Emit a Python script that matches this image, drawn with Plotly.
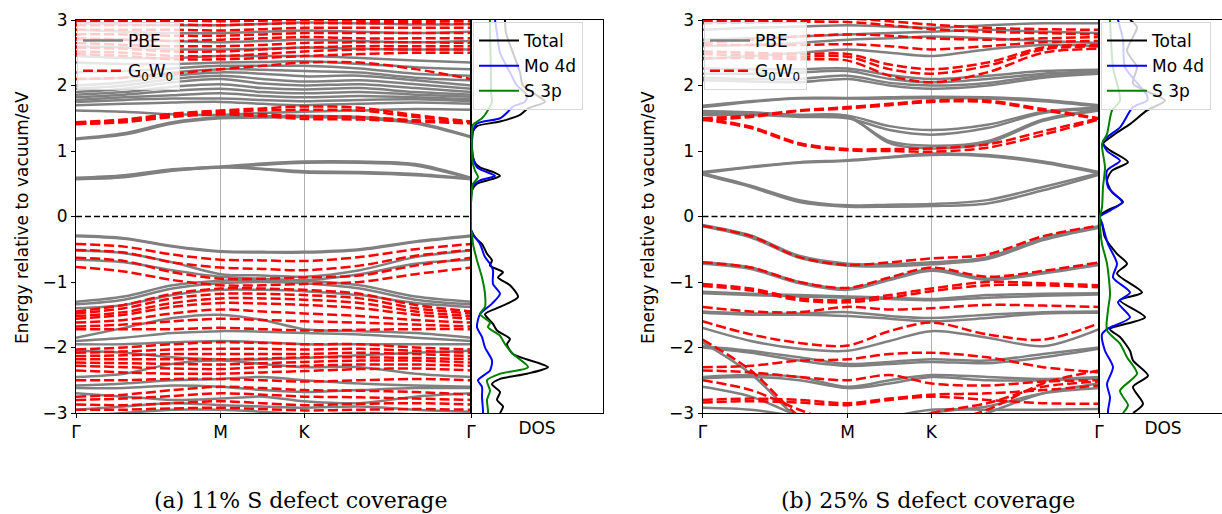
import plotly.graph_objects as go

# ---------------- data ----------------
kpath = [0.0, 0.333, 0.667, 1.0, 1.289, 1.577, 1.962, 2.347, 2.732]
k_ticks = [0.0, 1.0, 1.577, 2.732]
k_labels = ["Γ", "M", "K", "Γ"]
e_ticks = [-3, -2, -1, 0, 1, 2, 3]
e_labels = ["−3", "−2", "−1", "0", "1", "2", "3"]
fermi_level = 0.0

# panel (a): 11% S defect coverage
pbe_a = [
    [0.57, 0.60, 0.70, 0.75, 0.72, 0.67, 0.66, 0.63, 0.57],
    [0.58, 0.61, 0.71, 0.76, 0.73, 0.69, 0.68, 0.65, 0.58],
    [0.58, 0.62, 0.71, 0.75, 0.79, 0.82, 0.82, 0.78, 0.58],
    [0.59, 0.63, 0.72, 0.76, 0.81, 0.84, 0.84, 0.80, 0.59],
    [1.18, 1.25, 1.42, 1.50, 1.51, 1.52, 1.50, 1.42, 1.21],
    [1.19, 1.27, 1.44, 1.52, 1.53, 1.54, 1.52, 1.44, 1.22],
    [1.62, 1.60, 1.56, 1.55, 1.58, 1.60, 1.62, 1.64, 1.63],
    [1.70, 1.72, 1.74, 1.75, 1.72, 1.70, 1.72, 1.74, 1.72],
    [1.75, 1.78, 1.80, 1.80, 1.78, 1.76, 1.78, 1.79, 1.76],
    [1.78, 1.82, 1.85, 1.88, 1.84, 1.82, 1.84, 1.82, 1.79],
    [1.82, 1.86, 1.92, 1.95, 1.90, 1.88, 1.90, 1.86, 1.83],
    [1.86, 1.90, 1.98, 2.02, 1.96, 1.94, 1.96, 1.90, 1.86],
    [1.90, 1.95, 2.05, 2.10, 2.03, 2.00, 2.02, 1.96, 1.90],
    [1.95, 2.00, 2.10, 2.15, 2.10, 2.06, 2.08, 2.02, 1.95],
    [2.00, 2.05, 2.15, 2.20, 2.18, 2.14, 2.15, 2.08, 2.00],
    [2.10, 2.12, 2.20, 2.25, 2.24, 2.22, 2.20, 2.12, 2.08],
    [2.20, 2.22, 2.26, 2.30, 2.30, 2.30, 2.26, 2.18, 2.15],
    [2.35, 2.33, 2.33, 2.35, 2.36, 2.37, 2.33, 2.28, 2.25],
    [2.45, 2.42, 2.42, 2.45, 2.45, 2.45, 2.42, 2.38, 2.35],
    [2.60, 2.58, 2.55, 2.55, 2.56, 2.58, 2.56, 2.55, 2.55],
    [2.70, 2.70, 2.68, 2.66, 2.68, 2.70, 2.68, 2.66, 2.68],
    [2.85, 2.82, 2.80, 2.80, 2.82, 2.84, 2.82, 2.80, 2.82],
    [2.95, 2.93, 2.92, 2.92, 2.94, 2.96, 2.95, 2.93, 2.94],
    [-0.29, -0.33, -0.45, -0.53, -0.54, -0.54, -0.50, -0.38, -0.29],
    [-0.30, -0.34, -0.46, -0.54, -0.55, -0.55, -0.51, -0.39, -0.30],
    [-0.52, -0.56, -0.70, -0.88, -0.90, -0.92, -0.82, -0.62, -0.52],
    [-0.66, -0.70, -0.82, -0.92, -0.95, -0.97, -0.88, -0.72, -0.66],
    [-1.30, -1.22, -1.05, -0.98, -0.97, -0.98, -1.05, -1.22, -1.30],
    [-1.34, -1.27, -1.10, -1.02, -1.00, -1.02, -1.10, -1.27, -1.34],
    [-1.40, -1.35, -1.20, -1.12, -1.12, -1.14, -1.20, -1.32, -1.38],
    [-1.85, -1.70, -1.55, -1.50, -1.58, -1.72, -1.75, -1.78, -1.85],
    [-1.90, -1.85, -1.78, -1.75, -1.76, -1.78, -1.80, -1.85, -1.90],
    [-1.95, -1.95, -1.92, -1.90, -1.92, -1.95, -1.95, -1.95, -1.95],
    [-2.05, -2.08, -2.15, -2.18, -2.18, -2.16, -2.12, -2.08, -2.05],
    [-2.45, -2.40, -2.25, -2.20, -2.25, -2.30, -2.30, -2.40, -2.45],
    [-2.58, -2.55, -2.50, -2.48, -2.45, -2.50, -2.55, -2.58, -2.60],
    [-2.62, -2.62, -2.58, -2.60, -2.65, -2.68, -2.65, -2.62, -2.62],
    [-2.70, -2.75, -2.80, -2.78, -2.75, -2.82, -2.85, -2.75, -2.70],
    [-2.95, -2.90, -2.85, -2.88, -2.90, -2.92, -2.90, -2.95, -2.98],
    [-3.05, -3.00, -2.95, -2.95, -2.98, -3.02, -3.00, -3.02, -3.05],
]
gw_a = [
    [1.41, 1.44, 1.52, 1.56, 1.53, 1.49, 1.48, 1.45, 1.42],
    [1.42, 1.45, 1.53, 1.58, 1.56, 1.53, 1.52, 1.47, 1.43],
    [1.43, 1.47, 1.56, 1.60, 1.62, 1.63, 1.62, 1.52, 1.44],
    [1.44, 1.48, 1.57, 1.62, 1.65, 1.68, 1.66, 1.55, 1.45],
    [2.10, 2.12, 2.18, 2.25, 2.30, 2.35, 2.35, 2.25, 2.10],
    [2.48, 2.45, 2.40, 2.40, 2.42, 2.45, 2.48, 2.50, 2.50],
    [2.52, 2.50, 2.45, 2.45, 2.48, 2.52, 2.55, 2.55, 2.55],
    [2.58, 2.56, 2.52, 2.52, 2.55, 2.58, 2.60, 2.60, 2.60],
    [2.65, 2.62, 2.60, 2.60, 2.62, 2.65, 2.66, 2.66, 2.65],
    [2.72, 2.70, 2.68, 2.70, 2.72, 2.74, 2.72, 2.72, 2.72],
    [2.78, 2.78, 2.76, 2.76, 2.78, 2.80, 2.80, 2.80, 2.80],
    [2.85, 2.85, 2.85, 2.84, 2.86, 2.88, 2.88, 2.88, 2.88],
    [2.92, 2.92, 2.93, 2.92, 2.94, 2.95, 2.95, 2.95, 2.94],
    [2.98, 2.98, 2.99, 2.98, 2.99, 3.00, 2.99, 2.98, 2.98],
    [-0.42, -0.46, -0.58, -0.66, -0.67, -0.68, -0.62, -0.50, -0.42],
    [-0.51, -0.55, -0.70, -0.78, -0.80, -0.82, -0.75, -0.60, -0.51],
    [-0.63, -0.68, -0.85, -0.95, -0.95, -0.93, -0.90, -0.75, -0.63],
    [-0.77, -0.84, -0.97, -1.05, -1.05, -1.03, -1.00, -0.88, -0.78],
    [-1.45, -1.35, -1.18, -1.10, -1.10, -1.12, -1.18, -1.35, -1.45],
    [-1.48, -1.40, -1.25, -1.18, -1.18, -1.20, -1.25, -1.40, -1.48],
    [-1.52, -1.46, -1.32, -1.25, -1.25, -1.27, -1.32, -1.45, -1.52],
    [-1.56, -1.50, -1.38, -1.32, -1.33, -1.35, -1.40, -1.50, -1.56],
    [-1.62, -1.58, -1.48, -1.42, -1.45, -1.48, -1.52, -1.58, -1.62],
    [-1.68, -1.65, -1.60, -1.56, -1.58, -1.60, -1.62, -1.65, -1.68],
    [-1.72, -1.72, -1.72, -1.70, -1.72, -1.74, -1.73, -1.72, -1.72],
    [-2.03, -2.00, -1.95, -1.92, -1.93, -1.95, -1.95, -2.00, -2.03],
    [-2.08, -2.06, -2.03, -2.02, -2.02, -2.03, -2.02, -2.05, -2.08],
    [-2.13, -2.12, -2.10, -2.10, -2.10, -2.10, -2.08, -2.10, -2.13],
    [-2.18, -2.18, -2.18, -2.18, -2.17, -2.15, -2.15, -2.16, -2.18],
    [-2.23, -2.24, -2.25, -2.26, -2.24, -2.22, -2.20, -2.20, -2.23],
    [-2.28, -2.30, -2.32, -2.33, -2.30, -2.28, -2.26, -2.26, -2.28],
    [-2.35, -2.38, -2.40, -2.40, -2.38, -2.36, -2.33, -2.32, -2.35],
    [-2.50, -2.50, -2.48, -2.48, -2.50, -2.52, -2.50, -2.48, -2.50],
    [-2.75, -2.72, -2.65, -2.60, -2.62, -2.65, -2.66, -2.68, -2.72],
    [-2.80, -2.78, -2.74, -2.70, -2.72, -2.75, -2.76, -2.78, -2.80],
    [-2.87, -2.88, -2.85, -2.82, -2.85, -2.88, -2.86, -2.85, -2.87],
    [-2.95, -2.95, -2.93, -2.92, -2.94, -2.96, -2.95, -2.94, -2.95],
]

# panel (b): 25% S defect coverage
pbe_b = [
    [0.64, 0.45, 0.22, 0.15, 0.15, 0.16, 0.20, 0.40, 0.64],
    [0.66, 0.47, 0.25, 0.17, 0.18, 0.19, 0.25, 0.45, 0.66],
    [0.66, 0.75, 0.82, 0.85, 0.90, 0.94, 0.92, 0.82, 0.66],
    [0.68, 0.76, 0.83, 0.86, 0.91, 0.96, 0.94, 0.84, 0.68],
    [1.55, 1.55, 1.52, 1.50, 1.32, 1.25, 1.35, 1.58, 1.64],
    [1.57, 1.57, 1.55, 1.54, 1.38, 1.32, 1.40, 1.60, 1.66],
    [1.60, 1.58, 1.54, 1.52, 1.15, 1.08, 1.15, 1.48, 1.63],
    [1.61, 1.59, 1.55, 1.53, 1.12, 1.04, 1.12, 1.46, 1.62],
    [1.67, 1.75, 1.80, 1.80, 1.80, 1.81, 1.80, 1.76, 1.68],
    [1.69, 1.76, 1.81, 1.81, 1.82, 1.83, 1.82, 1.78, 1.70],
    [2.08, 2.06, 2.05, 2.10, 2.00, 1.95, 2.00, 2.12, 2.18],
    [2.12, 2.10, 2.10, 2.15, 2.04, 2.00, 2.04, 2.15, 2.20],
    [2.18, 2.18, 2.20, 2.22, 2.10, 2.05, 2.10, 2.18, 2.22],
    [2.26, 2.25, 2.25, 2.26, 2.16, 2.10, 2.15, 2.22, 2.24],
    [2.40, 2.45, 2.50, 2.55, 2.50, 2.45, 2.55, 2.62, 2.60],
    [2.60, 2.62, 2.65, 2.70, 2.72, 2.75, 2.72, 2.68, 2.65],
    [2.70, 2.72, 2.75, 2.78, 2.80, 2.82, 2.85, 2.82, 2.80],
    [2.85, 2.88, 2.90, 2.92, 2.90, 2.88, 2.92, 2.95, 2.95],
    [-0.13, -0.29, -0.60, -0.72, -0.73, -0.70, -0.62, -0.33, -0.15],
    [-0.15, -0.32, -0.63, -0.75, -0.76, -0.73, -0.65, -0.36, -0.17],
    [-0.70, -0.78, -1.00, -1.10, -0.95, -0.80, -0.95, -0.85, -0.72],
    [-0.72, -0.80, -1.02, -1.12, -0.97, -0.83, -0.97, -0.87, -0.74],
    [-1.15, -1.18, -1.20, -1.22, -1.24, -1.26, -1.20, -1.18, -1.17],
    [-1.17, -1.20, -1.22, -1.24, -1.26, -1.28, -1.24, -1.21, -1.19],
    [-1.45, -1.48, -1.48, -1.46, -1.52, -1.55, -1.50, -1.46, -1.45],
    [-1.47, -1.50, -1.50, -1.52, -1.56, -1.60, -1.55, -1.48, -1.47],
    [-1.70, -1.90, -2.02, -2.05, -1.90, -1.75, -1.85, -1.98, -1.72],
    [-1.98, -2.05, -2.15, -2.25, -2.22, -2.18, -2.20, -2.10, -2.00],
    [-2.00, -2.08, -2.20, -2.28, -2.25, -2.22, -2.24, -2.15, -2.02],
    [-2.45, -2.42, -2.45, -2.60, -2.50, -2.42, -2.45, -2.48, -2.45],
    [-2.47, -2.45, -2.50, -2.62, -2.55, -2.45, -2.50, -2.50, -2.47],
    [-2.60, -2.75, -3.05, -3.30, -3.20, -3.00, -2.90, -2.70, -2.62],
    [-2.92, -2.95, -3.05, -3.10, -3.05, -2.95, -2.95, -2.95, -2.94],
    [-1.92, -2.40, -3.10, -3.50, -3.50, -3.30, -3.00, -2.70, -2.55],
]
gw_b = [
    [1.48, 1.35, 1.10, 1.01, 1.00, 0.99, 1.05, 1.25, 1.48],
    [1.50, 1.37, 1.12, 1.03, 1.03, 1.04, 1.10, 1.30, 1.50],
    [1.47, 1.52, 1.61, 1.65, 1.70, 1.75, 1.75, 1.62, 1.49],
    [1.50, 1.54, 1.62, 1.67, 1.72, 1.77, 1.77, 1.64, 1.50],
    [2.42, 2.42, 2.40, 2.38, 2.15, 2.05, 2.20, 2.50, 2.56],
    [2.48, 2.46, 2.44, 2.44, 2.25, 2.18, 2.30, 2.55, 2.60],
    [2.52, 2.50, 2.48, 2.48, 2.32, 2.25, 2.35, 2.58, 2.62],
    [2.62, 2.62, 2.62, 2.63, 2.60, 2.55, 2.60, 2.66, 2.68],
    [2.65, 2.70, 2.75, 2.78, 2.76, 2.72, 2.70, 2.72, 2.74],
    [2.95, 2.96, 2.97, 2.97, 2.92, 2.86, 2.82, 2.80, 2.78],
    [2.98, 2.99, 3.00, 3.02, 2.98, 2.93, 2.88, 2.86, 2.85],
    [-0.14, -0.30, -0.62, -0.74, -0.70, -0.64, -0.58, -0.30, -0.14],
    [-0.70, -0.78, -1.00, -1.09, -0.93, -0.78, -0.92, -0.83, -0.70],
    [-1.03, -1.10, -1.25, -1.28, -1.20, -1.10, -1.00, -1.02, -1.05],
    [-1.06, -1.13, -1.28, -1.31, -1.24, -1.14, -1.05, -1.05, -1.08],
    [-1.38, -1.45, -1.46, -1.38, -1.42, -1.40, -1.35, -1.36, -1.38],
    [-1.60, -1.80, -1.93, -1.97, -1.75, -1.62, -1.80, -1.88, -1.63],
    [-2.30, -2.28, -2.20, -2.18, -2.10, -2.08, -2.15, -2.30, -2.38],
    [-2.35, -2.38, -2.45, -2.50, -2.42, -2.55, -2.58, -2.52, -2.50],
    [-2.50, -2.65, -2.95, -3.20, -3.20, -3.00, -2.85, -2.60, -2.52],
    [-2.80, -2.78, -2.80, -2.85, -2.78, -2.72, -2.70, -2.65, -2.58],
    [-2.84, -2.82, -2.84, -2.88, -2.80, -2.75, -2.80, -2.85, -2.86],
    [-1.88, -2.35, -3.05, -3.45, -3.40, -3.20, -2.95, -2.55, -2.35],
]

# DOS (arbitrary units), panel (a)
dos_a_total_e = [3.0, 2.8, 2.5, 2.2, 2.0, 1.85, 1.75, 1.65, 1.55, 1.45, 1.38, 1.3, 1.1, 0.9, 0.8, 0.75, 0.68, 0.62, 0.57, 0.5, 0.4, 0.2, 0.0, -0.2, -0.24, -0.32, -0.42, -0.57, -0.67, -0.75, -0.85, -0.93, -1.05, -1.23, -1.38, -1.49, -1.64, -1.74, -1.87, -1.95, -2.1, -2.3, -2.4, -2.48, -2.56, -2.68, -2.8, -2.9, -3.0]
dos_a_total = [34, 35, 42, 49, 52, 66, 74, 57, 49, 29, 6, 2, 1, 2, 5, 9, 22, 29, 21, 6, 1, 0, 0, 0, 1, 4, 11, 16, 21, 19, 32, 27, 39, 47, 29, 14, 22, 26, 39, 36, 42, 77, 56, 29, 21, 29, 26, 32, 29]
dos_a_mo_e = [3.0, 2.8, 2.5, 2.2, 2.0, 1.85, 1.75, 1.68, 1.6, 1.5, 1.42, 1.3, 1.1, 0.9, 0.75, 0.7, 0.62, 0.55, 0.45, 0.2, 0.0, -0.2, -0.27, -0.42, -0.62, -0.72, -0.82, -1.03, -1.18, -1.33, -1.49, -1.69, -1.84, -2.0, -2.2, -2.35, -2.5, -2.6, -2.76, -2.96, -3.0]
dos_a_mo = [24, 26, 29, 39, 46, 56, 54, 42, 37, 29, 6, 2, 1, 2, 6, 12, 24, 9, 1, 0, 0, 0, 2, 9, 14, 19, 22, 22, 29, 21, 9, 6, 11, 14, 21, 19, 7, 11, 11, 12, 12]
dos_a_s_e = [3.0, 2.8, 2.2, 1.9, 1.75, 1.6, 1.5, 1.4, 1.3, 1.0, 0.8, 0.7, 0.6, 0.5, 0.4, 0.2, 0.0, -0.2, -0.27, -0.42, -0.67, -0.93, -1.18, -1.38, -1.49, -1.62, -1.69, -1.82, -1.95, -2.1, -2.3, -2.4, -2.5, -2.66, -2.8, -2.96, -3.0]
dos_a_s = [19, 19, 20, 20, 21, 16, 11, 2, 1, 1, 2, 4, 7, 2, 1, 0, 0, 0, 1, 2, 6, 11, 14, 14, 9, 19, 17, 29, 34, 42, 57, 29, 16, 19, 16, 17, 17]

# DOS (arbitrary units), panel (b)
dos_b_total_e = [3.0, 2.89, 2.53, 2.28, 2.03, 1.77, 1.62, 1.41, 1.26, 1.11, 1.01, 0.83, 0.70, 0.55, 0.37, 0.22, 0.09, 0.02, -0.05, -0.11, -0.32, -0.57, -0.72, -0.87, -1.16, -1.28, -1.54, -1.72, -1.84, -2.05, -2.2, -2.43, -2.6, -2.86, -3.0]
dos_b_total = [31, 38, 28, 38, 34, 66, 48, 31, 16, 4, 11, 29, 13, 8, 13, 24, 8, 1, 0, 3, 6, 18, 28, 18, 43, 21, 46, 11, 21, 31, 34, 49, 34, 44, 34]
dos_b_mo_e = [3.0, 2.7, 2.28, 1.85, 1.77, 1.67, 1.36, 1.15, 1.0, 0.85, 0.70, 0.45, 0.22, 0.09, 0.0, -0.1, -0.42, -0.72, -0.93, -1.16, -1.31, -1.54, -1.72, -1.8, -2.05, -2.3, -2.56, -2.76, -2.96, -3.0]
dos_b_mo = [19, 24, 26, 48, 48, 34, 21, 4, 8, 21, 8, 9, 23, 11, 1, 3, 9, 18, 14, 31, 19, 31, 8, 3, 6, 14, 8, 11, 9, 9]
dos_b_s_e = [3.0, 2.28, 1.77, 1.62, 1.26, 1.11, 0.75, 0.45, 0.14, 0.0, -0.11, -0.42, -0.72, -1.19, -1.43, -1.74, -1.94, -2.15, -2.4, -2.66, -2.88, -3.0]
dos_b_s = [11, 14, 21, 13, 8, 3, 6, 4, 3, 1, 1, 3, 8, 11, 9, 8, 21, 28, 38, 21, 29, 24]

captions = ["(a) 11% S defect coverage", "(b) 25% S defect coverage"]
ylabel = "Energy relative to vacuum/eV"

# ---------------- figure ----------------
W, H = 1222, 514
def px(x): return x / W
def py(y): return 1 - y / H

fig = go.Figure()
FONT = "DejaVu Sans"
FS = 17

def add_bands(bands, xa, ya, color, dash, name, legend):
    for i, b in enumerate(bands):
        fig.add_trace(go.Scatter(
            x=kpath, y=b, mode="lines", xaxis=xa, yaxis=ya,
            line=dict(color=color, width=2.5, dash=dash, shape="spline", smoothing=0.9),
            name=name, legend=legend, legendgroup=name + legend,
            showlegend=(i == 0), hoverinfo="skip"))

def add_dos(e, d, xa, ya, color, name, legend):
    fig.add_trace(go.Scatter(
        x=d, y=e, mode="lines", xaxis=xa, yaxis=ya,
        line=dict(color=color, width=2, shape="spline", smoothing=0.7),
        name=name, legend=legend, legendgroup=name + legend, hoverinfo="skip"))

GW_NAME = "G<sub>0</sub>W<sub>0</sub>"
DASH = "10px,4px"

add_bands(pbe_a, "x", "y", "#808080", "solid", "PBE", "legend")
add_bands(gw_a, "x", "y", "#ff0000", DASH, GW_NAME, "legend")
add_dos(dos_a_total_e, dos_a_total, "x2", "y2", "#000000", "Total", "legend2")
add_dos(dos_a_mo_e, dos_a_mo, "x2", "y2", "#0000ff", "Mo 4d", "legend2")
add_dos(dos_a_s_e, dos_a_s, "x2", "y2", "#008000", "S 3p", "legend2")

add_bands(pbe_b, "x3", "y3", "#808080", "solid", "PBE", "legend3")
add_bands(gw_b, "x3", "y3", "#ff0000", DASH, GW_NAME, "legend3")
add_dos(dos_b_total_e, dos_b_total, "x4", "y4", "#000000", "Total", "legend4")
add_dos(dos_b_mo_e, dos_b_mo, "x4", "y4", "#0000ff", "Mo 4d", "legend4")
add_dos(dos_b_s_e, dos_b_s, "x4", "y4", "#008000", "S 3p", "legend4")

ydom = [py(413), py(20)]
tickfont = dict(family=FONT, size=FS, color="#000000")

def band_xaxis(dom, anchor):
    return dict(domain=dom, range=[kpath[0], kpath[-1]], anchor=anchor,
                tickvals=k_ticks, ticktext=k_labels, ticks="outside", ticklen=4,
                tickcolor="#000", tickfont=tickfont, showgrid=True, gridcolor="#b0b0b0",
                gridwidth=1, showline=True, linecolor="#000", linewidth=1, mirror=True,
                zeroline=False, automargin=False)

def band_yaxis(anchor):
    return dict(domain=ydom, range=[-3, 3], anchor=anchor, tickvals=e_ticks,
                ticktext=e_labels, ticks="outside", ticklen=4, tickcolor="#000",
                tickfont=tickfont, showgrid=False, showline=True, linecolor="#000",
                linewidth=1, mirror=True, zeroline=False, automargin=False)

def dos_xaxis(dom, anchor, rng, mid, mirror):
    return dict(domain=dom, range=rng, anchor=anchor, tickvals=[mid], ticktext=["DOS"],
                ticks="", tickfont=tickfont, showgrid=False, showline=True,
                linecolor="#000", linewidth=1, mirror=mirror, zeroline=False,
                automargin=False)

def dos_yaxis(anchor, mirror):
    return dict(domain=ydom, range=[-3, 3], anchor=anchor, showticklabels=False,
                ticks="", showgrid=False, showline=True, linecolor="#000",
                linewidth=1, mirror=mirror, zeroline=False, automargin=False)

def leg(x, y, gap):
    return dict(x=x, y=y, xanchor="left", yanchor="top", bgcolor="rgba(255,255,255,0.8)",
                bordercolor="#d8d8d8", borderwidth=1, font=dict(family=FONT, size=FS, color="#000"),
                tracegroupgap=gap, traceorder="grouped", itemwidth=40)

fig.update_layout(
    width=W, height=H, margin=dict(l=0, r=0, t=0, b=0, pad=0, autoexpand=False),
    paper_bgcolor="white", plot_bgcolor="white",
    font=dict(family=FONT, size=FS, color="#000"),
    xaxis=band_xaxis([px(76), px(471)], "y"),
    yaxis=band_yaxis("x"),
    xaxis2=dos_xaxis([px(471), px(603)], "y2", [0, 132], 66, True),
    yaxis2=dos_yaxis("x2", True),
    xaxis3=band_xaxis([px(702.5), px(1099)], "y3"),
    yaxis3=band_yaxis("x3"),
    xaxis4=dos_xaxis([px(1099), 1.0], "y4", [0, 123], 64, True),
    yaxis4=dos_yaxis("x4", False),
    legend=leg(px(77), py(22), 5),
    legend2=leg(px(473), py(22), 0),
    legend3=leg(px(704), py(22), 5),
    legend4=leg(px(1101), py(22), 0),
    showlegend=True,
)

for xa, ya in (("x", "y"), ("x3", "y3")):
    fig.add_shape(type="line", xref=xa, yref=ya, x0=kpath[0], x1=kpath[-1],
                  y0=fermi_level, y1=fermi_level,
                  line=dict(color="#000", width=1.6, dash="6px,3px"))

for xc, text in ((300, captions[0]), (928, captions[1])):
    fig.add_annotation(xref="paper", yref="paper", x=px(xc), y=py(500), text=text,
                       showarrow=False, xanchor="center", yanchor="middle",
                       font=dict(family="DejaVu Serif", size=22, color="#000"))
for xc in (22, 648):
    fig.add_annotation(xref="paper", yref="paper", x=px(xc), y=py(218), text=ylabel,
                       showarrow=False, textangle=-90, xanchor="center", yanchor="middle",
                       font=dict(family=FONT, size=FS, color="#000"))

fig.write_html("out.html")
